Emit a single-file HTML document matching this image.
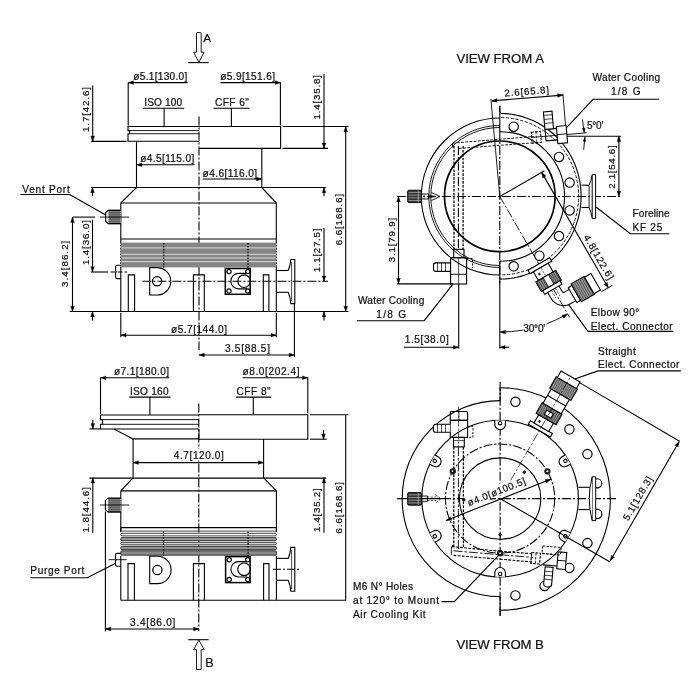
<!DOCTYPE html>
<html><head><meta charset="utf-8"><title>Drawing</title>
<style>
html,body{margin:0;padding:0;background:#fff;width:700px;height:700px;overflow:hidden;}
svg{display:block;position:absolute;left:0;top:0;will-change:transform}
text{font-family:"Liberation Sans",sans-serif;fill:#111;stroke:#111;stroke-width:0.22px;}
</style></head><body>
<svg width="700" height="700" viewBox="0 0 700 700">
<rect x="0" y="0" width="700" height="700" fill="#fff"/>
<path d="M196.5,52.2 V33.2 Q196.5,32.6 197.1,32.6 H200.6 Q201.2,32.6 201.2,33.2 V52.2 H204 L198.9,62.2 L193.6,52.2 Z" fill="none" stroke="#000" stroke-width="0.9"/>
<line x1="188.30" y1="62.60" x2="208.60" y2="62.60" stroke="#000" stroke-width="1.1"/>
<text x="203.20" y="42.20" font-size="11.8" text-anchor="start">A</text>
<line x1="199.00" y1="116.50" x2="199.00" y2="350.00" stroke="#000" stroke-width="1.1" stroke-dasharray="9 2 2 2"/>
<path d="M199,126.5 H128 V130.6 H129.6 V133.7 H128 V141.3 H199" fill="none" stroke="#000" stroke-width="1.1"/>
<line x1="128.00" y1="130.60" x2="199.00" y2="130.60" stroke="#000" stroke-width="0.9"/>
<line x1="129.60" y1="133.70" x2="199.00" y2="133.70" stroke="#000" stroke-width="0.9"/>
<path d="M199,126.5 H280.6 V148.4 H199" fill="none" stroke="#000" stroke-width="1.1"/>
<line x1="282.50" y1="126.50" x2="348.50" y2="126.50" stroke="#000" stroke-width="1.1"/>
<line x1="282.50" y1="148.40" x2="328.00" y2="148.40" stroke="#000" stroke-width="1.1"/>
<line x1="91.00" y1="141.40" x2="126.50" y2="141.40" stroke="#000" stroke-width="1.1"/>
<line x1="136.50" y1="141.40" x2="136.50" y2="187.50" stroke="#000" stroke-width="1.1"/>
<line x1="261.80" y1="148.40" x2="261.80" y2="187.50" stroke="#000" stroke-width="1.1"/>
<line x1="91.00" y1="187.50" x2="326.00" y2="187.50" stroke="#000" stroke-width="1.1"/>
<line x1="136.50" y1="187.50" x2="120.80" y2="203.00" stroke="#000" stroke-width="1.1"/>
<line x1="261.80" y1="187.50" x2="276.30" y2="203.00" stroke="#000" stroke-width="1.1"/>
<line x1="120.80" y1="203.00" x2="276.30" y2="203.00" stroke="#000" stroke-width="1.1"/>
<line x1="120.80" y1="203.00" x2="120.80" y2="242.00" stroke="#000" stroke-width="1.1"/>
<line x1="276.30" y1="203.00" x2="276.30" y2="242.00" stroke="#000" stroke-width="1.1"/>
<line x1="120.80" y1="239.00" x2="276.30" y2="239.00" stroke="#000" stroke-width="1.1"/>
<line x1="120.80" y1="242.00" x2="120.80" y2="267.00" stroke="#000" stroke-width="1.2" stroke-dasharray="1.6 1.3"/>
<line x1="276.30" y1="242.00" x2="276.30" y2="267.00" stroke="#000" stroke-width="1.2" stroke-dasharray="1.6 1.3"/>
<line x1="120.80" y1="267.00" x2="120.80" y2="311.50" stroke="#000" stroke-width="1.1"/>
<line x1="276.30" y1="267.00" x2="276.30" y2="311.50" stroke="#000" stroke-width="1.1"/>
<rect x="120.8" y="242.6" width="155.5" height="24.8" fill="#858585"/>
<line x1="121.50" y1="247.90" x2="276.00" y2="247.90" stroke="#e4e4e4" stroke-width="0.9"/>
<line x1="121.50" y1="254.30" x2="276.00" y2="254.30" stroke="#e4e4e4" stroke-width="0.9"/>
<line x1="121.50" y1="258.00" x2="276.00" y2="258.00" stroke="#e4e4e4" stroke-width="0.9"/>
<line x1="121.50" y1="261.60" x2="276.00" y2="261.60" stroke="#e4e4e4" stroke-width="0.9"/>
<line x1="163.80" y1="243.00" x2="163.80" y2="268.00" stroke="#000" stroke-width="1.1" stroke-dasharray="1.6 1.3"/>
<line x1="248.00" y1="243.00" x2="248.00" y2="268.50" stroke="#000" stroke-width="1.1" stroke-dasharray="1.6 1.3"/>
<line x1="69.70" y1="311.50" x2="348.50" y2="311.50" stroke="#000" stroke-width="1.1"/>
<path d="M128.3,311.5 V274.9 H134.6 V311.5" fill="none" stroke="#000" stroke-width="1.1"/>
<path d="M193.4,311.5 V274.9 H204.3 V311.5" fill="none" stroke="#000" stroke-width="1.1"/>
<path d="M263.3,311.5 V274.9 H268.9 V311.5" fill="none" stroke="#000" stroke-width="1.1"/>
<path d="M149.7,267.6 H157.1 A13.7,13.7 0 0 1 157.1,295 H149.7 Z" fill="none" stroke="#000" stroke-width="1.1"/>
<circle cx="157.10" cy="281.20" r="4.60" fill="none" stroke="#000" stroke-width="1.3"/>
<line x1="142.40" y1="281.20" x2="328.00" y2="281.20" stroke="#000" stroke-width="1.1" stroke-dasharray="9 2 2 2"/>
<rect x="225.30" y="268.50" width="24.90" height="25.80" rx="0" fill="none" stroke="#000" stroke-width="1.5"/>
<circle cx="229.00" cy="271.60" r="2.10" fill="none" stroke="#000" stroke-width="1.2"/>
<circle cx="247.80" cy="271.60" r="2.10" fill="none" stroke="#000" stroke-width="1.2"/>
<circle cx="229.00" cy="291.00" r="2.10" fill="none" stroke="#000" stroke-width="1.2"/>
<circle cx="247.80" cy="291.00" r="2.10" fill="none" stroke="#000" stroke-width="1.2"/>
<path d="M247,273.4 H238.6 A7.7,7.7 0 0 0 238.6,288.9 H247" fill="none" stroke="#000" stroke-width="1.1"/>
<circle cx="244.10" cy="281.20" r="6.30" fill="none" stroke="#000" stroke-width="1.1"/>
<line x1="276.30" y1="270.50" x2="288.20" y2="270.50" stroke="#000" stroke-width="1.1"/>
<line x1="276.30" y1="292.30" x2="288.20" y2="292.30" stroke="#000" stroke-width="1.1"/>
<path d="M288.2,270.5 Q290.3,266 290.8,259.5 H294.8 V303.6 H290.8 Q290.3,297 288.2,292.3" fill="none" stroke="#000" stroke-width="1.1"/>
<line x1="291.60" y1="262.00" x2="291.60" y2="301.00" stroke="#000" stroke-width="0.7"/>
<line x1="294.40" y1="303.60" x2="294.40" y2="357.00" stroke="#000" stroke-width="1.1"/>
<path d="M120.7,210.4 H108.3 L105.7,212.6 V221.4 L108.3,223.6 H120.7" fill="#fff" stroke="#000" stroke-width="1.1"/>
<rect x="108.5" y="210.8" width="12.2" height="12.399999999999988" fill="#808080"/>
<line x1="108.50" y1="212.60" x2="120.70" y2="212.60" stroke="#3a3a3a" stroke-width="0.6"/>
<line x1="108.50" y1="214.80" x2="120.70" y2="214.80" stroke="#3a3a3a" stroke-width="0.6"/>
<line x1="108.50" y1="217.00" x2="120.70" y2="217.00" stroke="#3a3a3a" stroke-width="0.6"/>
<line x1="108.50" y1="219.20" x2="120.70" y2="219.20" stroke="#3a3a3a" stroke-width="0.6"/>
<line x1="108.50" y1="221.40" x2="120.70" y2="221.40" stroke="#3a3a3a" stroke-width="0.6"/>
<line x1="108.50" y1="210.40" x2="120.70" y2="210.40" stroke="#000" stroke-width="1.1"/>
<line x1="108.50" y1="223.60" x2="120.70" y2="223.60" stroke="#000" stroke-width="1.1"/>
<line x1="73.00" y1="217.10" x2="95.00" y2="217.10" stroke="#000" stroke-width="1.1"/>
<line x1="100.00" y1="217.10" x2="129.00" y2="217.10" stroke="#000" stroke-width="0.9"/>
<path d="M120.8,265.3 H117 Q115.6,265.3 115.6,266.8 V270.5 Q115.6,271.7 116.8,271.7 Q115.6,271.7 115.6,273 V277 Q115.6,278.6 117,278.6 H120.8" fill="none" stroke="#000" stroke-width="1.1"/>
<line x1="91.00" y1="272.00" x2="108.00" y2="272.00" stroke="#000" stroke-width="1.1"/>
<line x1="110.50" y1="272.00" x2="127.00" y2="272.00" stroke="#000" stroke-width="1.1" stroke-dasharray="5 2"/>
<text x="133.30" y="80.40" font-size="10.1" text-anchor="start" textLength="54" lengthAdjust="spacing">ø5.1[130.0]</text>
<line x1="128.20" y1="82.60" x2="187.50" y2="82.60" stroke="#000" stroke-width="1.1"/>
<polygon points="128.20,82.60 133.50,80.70 133.50,84.50" fill="#000" stroke="#000" stroke-width="0.3"/>
<line x1="128.20" y1="82.60" x2="128.20" y2="125.40" stroke="#000" stroke-width="1.1"/>
<text x="220.20" y="80.40" font-size="10.1" text-anchor="start" textLength="54.8" lengthAdjust="spacing">ø5.9[151.6]</text>
<line x1="220.40" y1="82.60" x2="280.40" y2="82.60" stroke="#000" stroke-width="1.1"/>
<polygon points="280.40,82.60 275.10,84.50 275.10,80.70" fill="#000" stroke="#000" stroke-width="0.3"/>
<line x1="280.40" y1="82.60" x2="280.40" y2="125.40" stroke="#000" stroke-width="1.1"/>
<text x="144.30" y="105.60" font-size="10.1" text-anchor="start" textLength="37.8" lengthAdjust="spacing">ISO 100</text>
<line x1="142.80" y1="108.30" x2="184.20" y2="108.30" stroke="#000" stroke-width="1.1"/>
<line x1="164.10" y1="108.30" x2="164.10" y2="126.50" stroke="#000" stroke-width="1.1"/>
<text x="214.90" y="105.60" font-size="10.1" text-anchor="start" textLength="34" lengthAdjust="spacing">CFF 6"</text>
<line x1="213.40" y1="108.30" x2="249.50" y2="108.30" stroke="#000" stroke-width="1.1"/>
<line x1="231.40" y1="108.30" x2="231.40" y2="126.50" stroke="#000" stroke-width="1.1"/>
<text x="88.60" y="132.00" font-size="9.7" text-anchor="start" textLength="45" lengthAdjust="spacing" transform="rotate(-90 88.60 132.00)">1.7[42.6]</text>
<line x1="92.70" y1="85.60" x2="92.70" y2="141.40" stroke="#000" stroke-width="1.1"/>
<polygon points="92.70,141.40 90.80,136.10 94.60,136.10" fill="#000" stroke="#000" stroke-width="0.3"/>
<text x="320.20" y="119.60" font-size="9.7" text-anchor="start" textLength="44.5" lengthAdjust="spacing" transform="rotate(-90 320.20 119.60)">1.4[35.8]</text>
<line x1="324.00" y1="74.00" x2="324.00" y2="148.40" stroke="#000" stroke-width="1.1"/>
<polygon points="324.00,148.40 322.10,143.10 325.90,143.10" fill="#000" stroke="#000" stroke-width="0.3"/>
<text x="140.30" y="162.30" font-size="10.1" text-anchor="start" textLength="54" lengthAdjust="spacing">ø4.5[115.0]</text>
<line x1="136.50" y1="164.80" x2="194.50" y2="164.80" stroke="#000" stroke-width="1.1"/>
<polygon points="136.50,164.80 141.80,162.90 141.80,166.70" fill="#000" stroke="#000" stroke-width="0.3"/>
<text x="202.60" y="176.80" font-size="10.1" text-anchor="start" textLength="54.5" lengthAdjust="spacing">ø4.6[116.0]</text>
<line x1="202.60" y1="179.00" x2="261.80" y2="179.00" stroke="#000" stroke-width="1.1"/>
<polygon points="261.80,179.00 256.50,180.90 256.50,177.10" fill="#000" stroke="#000" stroke-width="0.3"/>
<line x1="92.50" y1="187.50" x2="92.50" y2="196.00" stroke="#000" stroke-width="1.1"/>
<polygon points="92.50,187.50 94.40,192.80 90.60,192.80" fill="#000" stroke="#000" stroke-width="0.3"/>
<line x1="324.00" y1="187.50" x2="324.00" y2="196.00" stroke="#000" stroke-width="1.1"/>
<polygon points="324.00,187.50 325.90,192.80 322.10,192.80" fill="#000" stroke="#000" stroke-width="0.3"/>
<text x="22.30" y="192.70" font-size="10.1" text-anchor="start" textLength="47.4" lengthAdjust="spacing">Vent Port</text>
<path d="M20.3,194.5 H69.7 L105.7,215" fill="none" stroke="#000" stroke-width="1.1"/>
<text x="68.40" y="287.00" font-size="9.7" text-anchor="start" textLength="46.3" lengthAdjust="spacing" transform="rotate(-90 68.40 287.00)">3.4[86.2]</text>
<line x1="72.50" y1="217.10" x2="72.50" y2="311.50" stroke="#000" stroke-width="1.1"/>
<polygon points="72.50,217.10 74.40,222.40 70.60,222.40" fill="#000" stroke="#000" stroke-width="0.3"/>
<polygon points="72.50,311.50 70.60,306.20 74.40,306.20" fill="#000" stroke="#000" stroke-width="0.3"/>
<text x="88.80" y="265.10" font-size="9.7" text-anchor="start" textLength="45" lengthAdjust="spacing" transform="rotate(-90 88.80 265.10)">1.4[36.0]</text>
<line x1="92.50" y1="220.00" x2="92.50" y2="272.00" stroke="#000" stroke-width="1.1"/>
<polygon points="92.50,272.00 90.60,266.70 94.40,266.70" fill="#000" stroke="#000" stroke-width="0.3"/>
<line x1="92.50" y1="311.50" x2="92.50" y2="320.50" stroke="#000" stroke-width="1.1"/>
<polygon points="92.50,311.50 94.40,316.80 90.60,316.80" fill="#000" stroke="#000" stroke-width="0.3"/>
<line x1="324.00" y1="311.50" x2="324.00" y2="320.50" stroke="#000" stroke-width="1.1"/>
<polygon points="324.00,311.50 325.90,316.80 322.10,316.80" fill="#000" stroke="#000" stroke-width="0.3"/>
<text x="342.30" y="245.30" font-size="9.7" text-anchor="start" textLength="51.5" lengthAdjust="spacing" transform="rotate(-90 342.30 245.30)">6.6[168.6]</text>
<line x1="345.70" y1="126.50" x2="345.70" y2="311.50" stroke="#000" stroke-width="1.1"/>
<polygon points="345.70,126.50 347.60,131.80 343.80,131.80" fill="#000" stroke="#000" stroke-width="0.3"/>
<polygon points="345.70,311.50 343.80,306.20 347.60,306.20" fill="#000" stroke="#000" stroke-width="0.3"/>
<text x="320.50" y="272.30" font-size="9.7" text-anchor="start" textLength="43.7" lengthAdjust="spacing" transform="rotate(-90 320.50 272.30)">1.1[27.5]</text>
<line x1="324.00" y1="228.00" x2="324.00" y2="281.20" stroke="#000" stroke-width="1.1"/>
<polygon points="324.00,281.20 322.10,275.90 325.90,275.90" fill="#000" stroke="#000" stroke-width="0.3"/>
<text x="171.00" y="332.70" font-size="10.1" text-anchor="start" textLength="56" lengthAdjust="spacing">ø5.7[144.0]</text>
<line x1="120.80" y1="335.20" x2="276.30" y2="335.20" stroke="#000" stroke-width="1.1"/>
<polygon points="120.80,335.20 126.10,333.30 126.10,337.10" fill="#000" stroke="#000" stroke-width="0.3"/>
<polygon points="276.30,335.20 271.00,337.10 271.00,333.30" fill="#000" stroke="#000" stroke-width="0.3"/>
<line x1="120.80" y1="312.80" x2="120.80" y2="337.20" stroke="#000" stroke-width="1.1"/>
<line x1="276.30" y1="312.80" x2="276.30" y2="337.20" stroke="#000" stroke-width="1.1"/>
<text x="225.00" y="352.20" font-size="10.1" text-anchor="start" textLength="45" lengthAdjust="spacing">3.5[88.5]</text>
<line x1="199.00" y1="355.00" x2="294.40" y2="355.00" stroke="#000" stroke-width="1.1"/>
<polygon points="199.00,355.00 204.30,353.10 204.30,356.90" fill="#000" stroke="#000" stroke-width="0.3"/>
<polygon points="294.40,355.00 289.10,356.90 289.10,353.10" fill="#000" stroke="#000" stroke-width="0.3"/>
<text x="456.40" y="63.30" font-size="13.2" text-anchor="start" textLength="87.6" lengthAdjust="spacing">VIEW FROM A</text>
<line x1="396.90" y1="196.50" x2="621.10" y2="196.50" stroke="#000" stroke-width="1.1" stroke-dasharray="9 2 2 2"/>
<line x1="499.80" y1="105.70" x2="499.80" y2="131.00" stroke="#000" stroke-width="1.1"/>
<line x1="499.80" y1="131.00" x2="499.80" y2="283.00" stroke="#000" stroke-width="1.1" stroke-dasharray="9 2 2 2"/>
<line x1="499.80" y1="283.00" x2="499.80" y2="348.50" stroke="#000" stroke-width="1.1"/>
<path d="M499.80,275.00 A78.50,78.50 0 0 1 499.80,118.00" fill="none" stroke="#000" stroke-width="1.1"/>
<path d="M499.80,267.50 A71.00,71.00 0 0 1 499.80,125.50" fill="none" stroke="#000" stroke-width="0.9"/>
<path d="M499.80,265.50 A69.00,69.00 0 0 1 499.80,127.50" fill="none" stroke="#000" stroke-width="0.9"/>
<line x1="499.50" y1="125.20" x2="499.50" y2="127.80" stroke="#000" stroke-width="0.9"/>
<line x1="499.50" y1="265.20" x2="499.50" y2="267.80" stroke="#000" stroke-width="0.9"/>
<circle cx="499.80" cy="196.30" r="55.30" fill="none" stroke="#000" stroke-width="1.7"/>
<polyline points="499.80,105.70 499.80,111.50 501.00,113.30 505.47,113.60 508.30,113.85 511.11,114.21 513.92,114.66 516.70,115.21 519.47,115.86 522.21,116.61 524.92,117.45 527.61,118.40 530.26,119.43 532.87,120.56 535.44,121.78 537.97,123.10 540.45,124.50 542.88,125.99 545.26,127.56 547.59,129.22 549.85,130.96 552.06,132.78 554.20,134.68 556.28,136.65 558.28,138.70 560.22,140.81 562.08,143.00 563.87,145.24 565.57,147.55 567.20,149.92 568.75,152.35 570.21,154.82 571.58,157.35 572.87,159.93 574.07,162.55 575.18,165.21 576.20,167.91 577.12,170.65 577.95,173.41 578.69,176.21 579.32,179.02 579.86,181.86 580.31,184.72 580.65,187.59 580.90,190.47 581.05,193.36 581.10,196.25 581.05,199.14 580.90,202.03 580.65,204.91 580.31,207.78 579.86,210.64 579.32,213.48 578.69,216.29 577.95,219.09 577.12,221.85 576.20,224.59 575.18,227.29 574.07,229.95 572.87,232.57 571.58,235.15 570.21,237.67 568.75,240.15 567.20,242.58 565.57,244.95 563.87,247.26 562.08,249.50 560.22,251.69 558.28,253.80 556.28,255.85 554.20,257.82 552.06,259.72 549.85,261.54 547.59,263.28 545.26,264.94 542.88,266.51 540.45,268.00 537.97,269.40 535.44,270.72 532.87,271.94 530.26,273.07 527.61,274.10 524.92,275.05 522.21,275.89 519.47,276.64 516.70,277.29 513.92,277.84 511.11,278.29 508.30,278.65 505.47,278.90 502.64,279.05 499.80,279.10" fill="none" stroke="#000" stroke-width="1.1"/>
<line x1="499.80" y1="261.00" x2="499.80" y2="283.40" stroke="#000" stroke-width="1.1"/>
<path d="M499.80,131.70 A64.80,64.80 0 0 1 499.80,261.30" fill="none" stroke="#000" stroke-width="1.1"/>
<path d="M501.17,117.51 A78.70,78.70 0 0 1 501.17,274.89" fill="none" stroke="#000" stroke-width="0.9" stroke-dasharray="3.2 1.6"/>
<circle cx="513.69" cy="126.67" r="4.70" fill="#fff" stroke="#000" stroke-width="1.1"/>
<circle cx="559.00" cy="156.94" r="4.70" fill="#fff" stroke="#000" stroke-width="1.1"/>
<circle cx="569.63" cy="182.61" r="4.70" fill="#fff" stroke="#000" stroke-width="1.1"/>
<circle cx="569.63" cy="210.39" r="4.70" fill="#fff" stroke="#000" stroke-width="1.1"/>
<circle cx="559.00" cy="236.06" r="4.70" fill="#fff" stroke="#000" stroke-width="1.1"/>
<circle cx="539.36" cy="255.70" r="4.70" fill="#fff" stroke="#000" stroke-width="1.1"/>
<circle cx="513.69" cy="266.33" r="4.70" fill="#fff" stroke="#000" stroke-width="1.1"/>
<line x1="490.90" y1="98.90" x2="499.80" y2="196.50" stroke="#000" stroke-width="0.9"/>
<line x1="562.90" y1="93.70" x2="566.30" y2="134.90" stroke="#000" stroke-width="0.9"/>
<line x1="491.70" y1="100.90" x2="562.90" y2="95.10" stroke="#000" stroke-width="1.1"/>
<polygon points="491.70,100.90 496.83,98.57 497.14,102.36" fill="#000" stroke="#000" stroke-width="0.3"/>
<polygon points="562.90,95.10 557.77,97.43 557.46,93.64" fill="#000" stroke="#000" stroke-width="0.3"/>
<text x="504.80" y="96.60" font-size="9.7" text-anchor="start" textLength="44.5" lengthAdjust="spacing" transform="rotate(-4.7 504.80 96.60)">2.6[65.8]</text>
<text x="592.60" y="81.20" font-size="10.1" text-anchor="start" textLength="67.4" lengthAdjust="spacing">Water Cooling</text>
<text x="610.90" y="95.30" font-size="10.1" text-anchor="start" textLength="29.7" lengthAdjust="spacing">1/8 G</text>
<path d="M658.9,99.3 H593 L565.4,128.8" fill="none" stroke="#000" stroke-width="1.1"/>
<text x="586.90" y="129.40" font-size="10.1" text-anchor="start" textLength="16.5" lengthAdjust="spacing">5°0'</text>
<line x1="566.30" y1="136.30" x2="621.10" y2="136.30" stroke="#000" stroke-width="1.1"/>
<line x1="531.00" y1="137.50" x2="586.90" y2="132.80" stroke="#000" stroke-width="0.9"/>
<line x1="582.40" y1="119.60" x2="584.20" y2="132.30" stroke="#000" stroke-width="0.9"/>
<polygon points="584.30,132.60 582.29,128.34 585.06,127.95" fill="#000" stroke="#000" stroke-width="0.3"/>
<line x1="583.70" y1="149.80" x2="584.90" y2="137.20" stroke="#000" stroke-width="0.9"/>
<polygon points="584.90,136.90 585.82,141.52 583.04,141.23" fill="#000" stroke="#000" stroke-width="0.3"/>
<text x="615.40" y="188.80" font-size="9.7" text-anchor="start" textLength="43.4" lengthAdjust="spacing" transform="rotate(-90 615.40 188.80)">2.1[54.6]</text>
<line x1="618.90" y1="136.30" x2="618.90" y2="196.50" stroke="#000" stroke-width="1.1"/>
<polygon points="618.90,136.30 620.80,141.60 617.00,141.60" fill="#000" stroke="#000" stroke-width="0.3"/>
<polygon points="618.90,196.50 617.00,191.20 620.80,191.20" fill="#000" stroke="#000" stroke-width="0.3"/>
<line x1="581.50" y1="185.20" x2="589.10" y2="185.20" stroke="#000" stroke-width="1.1"/>
<line x1="581.50" y1="207.50" x2="589.10" y2="207.50" stroke="#000" stroke-width="1.1"/>
<line x1="589.10" y1="185.20" x2="589.10" y2="207.50" stroke="#000" stroke-width="0.9"/>
<path d="M589.1,185.2 Q591,181 592.2,175.2" fill="none" stroke="#000" stroke-width="1.0"/>
<path d="M589.1,207.5 Q591,212 592.2,217.8" fill="none" stroke="#000" stroke-width="1.0"/>
<path d="M592.2,174.6 H595.6 V218.4 H592.2 Z" fill="#fff" stroke="#000" stroke-width="1.0"/>
<text x="632.60" y="216.80" font-size="10.1" text-anchor="start" textLength="37" lengthAdjust="spacing">Foreline</text>
<text x="632.60" y="231.20" font-size="10.1" text-anchor="start" textLength="29.7" lengthAdjust="spacing">KF 25</text>
<path d="M669.3,233.7 H630.3 L596,207" fill="none" stroke="#000" stroke-width="1.1"/>
<text x="395.50" y="262.30" font-size="9.7" text-anchor="start" textLength="44.6" lengthAdjust="spacing" transform="rotate(-90 395.50 262.30)">3.1[79.9]</text>
<line x1="398.50" y1="196.50" x2="398.50" y2="283.70" stroke="#000" stroke-width="1.1"/>
<polygon points="398.50,196.50 400.40,201.80 396.60,201.80" fill="#000" stroke="#000" stroke-width="0.3"/>
<polygon points="398.50,283.70 396.60,278.40 400.40,278.40" fill="#000" stroke="#000" stroke-width="0.3"/>
<line x1="396.90" y1="283.90" x2="452.90" y2="283.90" stroke="#000" stroke-width="1.1"/>
<text x="358.00" y="304.20" font-size="10.1" text-anchor="start" textLength="66.3" lengthAdjust="spacing">Water Cooling</text>
<text x="376.30" y="317.70" font-size="10.1" text-anchor="start" textLength="29.7" lengthAdjust="spacing">1/8 G</text>
<path d="M356.9,320.7 H424.3 L452.9,284.2" fill="none" stroke="#000" stroke-width="1.1"/>
<text x="404.70" y="343.20" font-size="10.1" text-anchor="start" textLength="44" lengthAdjust="spacing">1.5[38.0]</text>
<line x1="404.00" y1="347.30" x2="458.70" y2="347.30" stroke="#000" stroke-width="1.1"/>
<polygon points="458.70,347.30 453.40,349.20 453.40,345.40" fill="#000" stroke="#000" stroke-width="0.3"/>
<line x1="458.70" y1="284.00" x2="458.70" y2="348.60" stroke="#000" stroke-width="1.1"/>
<line x1="499.80" y1="347.30" x2="509.20" y2="347.30" stroke="#000" stroke-width="1.1"/>
<polygon points="499.80,347.30 505.10,345.40 505.10,349.20" fill="#000" stroke="#000" stroke-width="0.3"/>
<line x1="499.80" y1="196.50" x2="569.55" y2="317.31" stroke="#000" stroke-width="0.9" stroke-dasharray="9 2 2 2"/>
<path d="M566.57,314.52 A135.60,135.60 0 0 1 546.62,323.76" fill="none" stroke="#000" stroke-width="0.9"/>
<path d="M522.65,330.16 A135.60,135.60 0 0 1 500.51,332.10" fill="none" stroke="#000" stroke-width="0.9"/>
<polygon points="500.00,332.10 505.50,330.20 505.50,334.00" fill="#000" stroke="#000" stroke-width="0.3"/>
<polygon points="567.60,313.93 563.94,318.46 561.93,315.24" fill="#000" stroke="#000" stroke-width="0.3"/>
<text x="523.30" y="331.70" font-size="10.1" text-anchor="start" textLength="22" lengthAdjust="spacing">30°0'</text>
<text x="590.70" y="315.60" font-size="10.1" text-anchor="start" textLength="48.7" lengthAdjust="spacing">Elbow 90°</text>
<text x="590.70" y="329.60" font-size="10.1" text-anchor="start" textLength="82" lengthAdjust="spacing">Elect. Connector</text>
<path d="M673.3,331.4 H588 L568.6,304.6" fill="none" stroke="#000" stroke-width="1.1"/>
<line x1="454.00" y1="146.00" x2="454.00" y2="250.00" stroke="#000" stroke-width="1.25" stroke-dasharray="2.6 1.3"/>
<line x1="458.40" y1="146.00" x2="458.40" y2="250.00" stroke="#000" stroke-width="1.1" stroke-dasharray="9 2 2.5 2"/>
<line x1="463.10" y1="146.00" x2="463.10" y2="250.00" stroke="#000" stroke-width="1.25" stroke-dasharray="2.6 1.3"/>
<line x1="452.70" y1="143.10" x2="533.70" y2="136.50" stroke="#000" stroke-width="0.9" stroke-dasharray="2.8 1.4"/>
<line x1="459.00" y1="148.40" x2="533.70" y2="142.80" stroke="#000" stroke-width="0.9" stroke-dasharray="2.8 1.4"/>
<line x1="452.70" y1="143.10" x2="452.70" y2="147.50" stroke="#000" stroke-width="1.1"/>
<g transform="rotate(-5 561 134)">
<rect x="557.00" y="126.00" width="9.80" height="17.40" rx="0" fill="#fff" stroke="#000" stroke-width="1.1"/>
<line x1="557.00" y1="134.30" x2="566.80" y2="134.30" stroke="#000" stroke-width="0.9"/>
<path d="M557,128 H545.5 V139.5 H557" fill="none" stroke="#000" stroke-width="1.1"/>
<rect x="545.40" y="110.50" width="8.60" height="17.50" rx="0" fill="#fff" stroke="#000" stroke-width="1.1"/>
<line x1="545.40" y1="114.00" x2="554.00" y2="114.00" stroke="#000" stroke-width="0.7"/>
<line x1="545.40" y1="118.00" x2="554.00" y2="118.00" stroke="#000" stroke-width="0.7"/>
<line x1="545.40" y1="122.00" x2="554.00" y2="122.00" stroke="#000" stroke-width="0.7"/>
<path d="M531.5,129.6 H540.8 V140.6 H531.5 Z" fill="none" stroke="#000" stroke-width="1.1" stroke-dasharray="2.6 1.3"/>
<line x1="536.20" y1="129.60" x2="536.20" y2="140.60" stroke="#000" stroke-width="0.7" stroke-dasharray="2.6 1.3"/>
</g>
<rect x="453.70" y="249.30" width="10.30" height="8.40" rx="0" fill="none" stroke="#000" stroke-width="1.1"/>
<rect x="450.60" y="257.70" width="16.00" height="26.30" rx="0" fill="none" stroke="#000" stroke-width="1.1"/>
<line x1="450.60" y1="274.30" x2="466.60" y2="274.30" stroke="#000" stroke-width="0.9"/>
<line x1="458.60" y1="257.70" x2="458.60" y2="284.00" stroke="#000" stroke-width="0.7"/>
<path d="M450.6,262.9 H436 Q433.5,262.9 433.5,265 V269.3 Q433.5,271.4 436,271.4 H450.6" fill="none" stroke="#000" stroke-width="1.1"/>
<line x1="437.50" y1="262.90" x2="437.50" y2="271.40" stroke="#000" stroke-width="0.7"/>
<line x1="441.50" y1="262.90" x2="441.50" y2="271.40" stroke="#000" stroke-width="0.7"/>
<line x1="445.50" y1="262.90" x2="445.50" y2="271.40" stroke="#000" stroke-width="0.7"/>
<path d="M466.6,258.5 H472.5 V268" fill="none" stroke="#000" stroke-width="0.9" stroke-dasharray="2.2 1.4"/>
<rect x="407.70" y="190.20" width="13.70" height="12.40" rx="1.2" fill="#333" stroke="#000" stroke-width="0.9"/>
<line x1="408.30" y1="192.40" x2="420.80" y2="192.40" stroke="#ccc" stroke-width="0.6"/>
<line x1="408.30" y1="195.10" x2="420.80" y2="195.10" stroke="#ccc" stroke-width="0.6"/>
<line x1="408.30" y1="197.80" x2="420.80" y2="197.80" stroke="#ccc" stroke-width="0.6"/>
<line x1="408.30" y1="200.50" x2="420.80" y2="200.50" stroke="#ccc" stroke-width="0.6"/>
<line x1="418.30" y1="190.40" x2="418.30" y2="202.40" stroke="#ccc" stroke-width="0.6"/>
<path d="M421.4,194 H428.5 V199 H421.4" fill="none" stroke="#000" stroke-width="0.9"/>
<line x1="424.00" y1="194.00" x2="424.00" y2="199.00" stroke="#000" stroke-width="0.6"/>
<path d="M431.5,192.5 L440,196.5 L431.5,200.5" fill="none" stroke="#000" stroke-width="0.9"/>
<path d="M428.5,195 L436,196.5 L428.5,198" fill="none" stroke="#000" stroke-width="0.7"/>
<g transform="translate(499.8 196.5) rotate(-30)">
<line x1="0.00" y1="0.00" x2="51.50" y2="0.00" stroke="#000" stroke-width="1.1"/>
<line x1="48.30" y1="0.00" x2="48.30" y2="133.30" stroke="#000" stroke-width="1.1"/>
<polygon points="48.30,0.00 50.20,5.30 46.40,5.30" fill="#000" stroke="#000" stroke-width="0.3"/>
<polygon points="48.30,133.30 46.40,128.00 50.20,128.00" fill="#000" stroke="#000" stroke-width="0.3"/>
<line x1="40.50" y1="133.30" x2="53.00" y2="133.30" stroke="#000" stroke-width="0.9"/>
<text x="0" y="0" font-size="9.7" textLength="50" lengthAdjust="spacing" transform="translate(52 77) rotate(90)">4.8[122.6]</text>
<rect x="-12.50" y="78.00" width="25.00" height="4.00" rx="0" fill="#fff" stroke="#000" stroke-width="1.1"/>
<rect x="-8.50" y="82.00" width="17.00" height="10.00" rx="0" fill="#fff" stroke="#000" stroke-width="1.1"/>
<circle cx="-4.50" cy="87.00" r="0.90" fill="#222" stroke="#000" stroke-width="0.6"/>
<line x1="0.00" y1="83.00" x2="0.00" y2="91.00" stroke="#000" stroke-width="0.6" stroke-dasharray="2 1.2"/>
<rect x="-11.50" y="92.00" width="23.00" height="11.00" rx="0" fill="#8c8c8c" stroke="#000" stroke-width="1.1"/>
<line x1="-10.50" y1="92.30" x2="-10.50" y2="102.70" stroke="#2a2a2a" stroke-width="0.6"/>
<line x1="-8.40" y1="92.30" x2="-8.40" y2="102.70" stroke="#2a2a2a" stroke-width="0.6"/>
<line x1="-6.30" y1="92.30" x2="-6.30" y2="102.70" stroke="#2a2a2a" stroke-width="0.6"/>
<line x1="-4.20" y1="92.30" x2="-4.20" y2="102.70" stroke="#2a2a2a" stroke-width="0.6"/>
<line x1="-2.10" y1="92.30" x2="-2.10" y2="102.70" stroke="#2a2a2a" stroke-width="0.6"/>
<line x1="0.00" y1="92.30" x2="0.00" y2="102.70" stroke="#2a2a2a" stroke-width="0.6"/>
<line x1="2.10" y1="92.30" x2="2.10" y2="102.70" stroke="#2a2a2a" stroke-width="0.6"/>
<line x1="4.20" y1="92.30" x2="4.20" y2="102.70" stroke="#2a2a2a" stroke-width="0.6"/>
<line x1="6.30" y1="92.30" x2="6.30" y2="102.70" stroke="#2a2a2a" stroke-width="0.6"/>
<line x1="8.40" y1="92.30" x2="8.40" y2="102.70" stroke="#2a2a2a" stroke-width="0.6"/>
<line x1="10.50" y1="92.30" x2="10.50" y2="102.70" stroke="#2a2a2a" stroke-width="0.6"/>
<rect x="-3.00" y="92.00" width="6.00" height="11.00" rx="0" fill="#fff" stroke="#000" stroke-width="0.7"/>
<rect x="-10.00" y="103.00" width="20.00" height="4.00" rx="0" fill="#fff" stroke="#000" stroke-width="1.1"/>
<path d="M-6.5,107 V114 A14.15,14.15 0 0 0 7.65,128.15 H13.7" fill="none" stroke="#000" stroke-width="1.1"/>
<path d="M6.5,107 V113.5 Q6.5,115.15 8.2,115.15 H13.7" fill="none" stroke="#000" stroke-width="1.1"/>
<line x1="-2.20" y1="107.00" x2="-2.20" y2="116.00" stroke="#000" stroke-width="0.6" stroke-dasharray="2.5 1.5"/>
<line x1="2.20" y1="107.00" x2="2.20" y2="116.00" stroke="#000" stroke-width="0.6" stroke-dasharray="2.5 1.5"/>
<rect x="13.70" y="113.20" width="4.30" height="17.00" rx="0" fill="#fff" stroke="#000" stroke-width="1.1"/>
<rect x="18.00" y="111.30" width="15.00" height="20.70" rx="0" fill="#9a9a9a" stroke="#000" stroke-width="1.1"/>
<line x1="19.50" y1="111.60" x2="19.50" y2="131.70" stroke="#2a2a2a" stroke-width="0.6"/>
<line x1="21.60" y1="111.60" x2="21.60" y2="131.70" stroke="#2a2a2a" stroke-width="0.6"/>
<line x1="23.70" y1="111.60" x2="23.70" y2="131.70" stroke="#2a2a2a" stroke-width="0.6"/>
<line x1="25.80" y1="111.60" x2="25.80" y2="131.70" stroke="#2a2a2a" stroke-width="0.6"/>
<line x1="27.90" y1="111.60" x2="27.90" y2="131.70" stroke="#2a2a2a" stroke-width="0.6"/>
<line x1="30.00" y1="111.60" x2="30.00" y2="131.70" stroke="#2a2a2a" stroke-width="0.6"/>
<line x1="32.10" y1="111.60" x2="32.10" y2="131.70" stroke="#2a2a2a" stroke-width="0.6"/>
<rect x="33.00" y="112.30" width="7.40" height="19.00" rx="0" fill="#fff" stroke="#000" stroke-width="1.1"/>
</g>
<line x1="198.80" y1="403.50" x2="198.80" y2="631.00" stroke="#000" stroke-width="1.1" stroke-dasharray="9 2 2 2"/>
<path d="M199,415 H100.5 V419.6 H102.6 V424.3 H100.5 V429 H199" fill="none" stroke="#000" stroke-width="1.1"/>
<line x1="100.50" y1="419.60" x2="199.00" y2="419.60" stroke="#000" stroke-width="0.9"/>
<line x1="102.60" y1="424.30" x2="199.00" y2="424.30" stroke="#000" stroke-width="0.9"/>
<line x1="199.00" y1="428.90" x2="199.00" y2="439.20" stroke="#000" stroke-width="0.9"/>
<line x1="89.40" y1="428.90" x2="100.50" y2="428.90" stroke="#000" stroke-width="1.1"/>
<line x1="113.90" y1="428.90" x2="133.10" y2="438.90" stroke="#000" stroke-width="1.1"/>
<line x1="133.10" y1="438.90" x2="199.00" y2="438.90" stroke="#000" stroke-width="1.1"/>
<path d="M199,414.8 H307.8 V439.2 H199" fill="none" stroke="#000" stroke-width="1.1"/>
<line x1="310.00" y1="414.80" x2="348.40" y2="414.80" stroke="#000" stroke-width="1.1"/>
<line x1="310.00" y1="439.20" x2="326.60" y2="439.20" stroke="#000" stroke-width="1.1"/>
<line x1="133.10" y1="438.90" x2="133.10" y2="477.80" stroke="#000" stroke-width="1.1"/>
<line x1="263.60" y1="439.20" x2="263.60" y2="477.80" stroke="#000" stroke-width="1.1"/>
<line x1="89.40" y1="478.10" x2="326.30" y2="478.10" stroke="#000" stroke-width="1.1"/>
<line x1="133.10" y1="477.80" x2="120.80" y2="490.90" stroke="#000" stroke-width="1.1"/>
<line x1="263.60" y1="477.80" x2="276.40" y2="490.90" stroke="#000" stroke-width="1.1"/>
<line x1="120.80" y1="490.90" x2="276.40" y2="490.90" stroke="#000" stroke-width="1.1"/>
<line x1="120.80" y1="490.90" x2="120.80" y2="531.50" stroke="#000" stroke-width="1.1"/>
<line x1="276.40" y1="490.90" x2="276.40" y2="531.50" stroke="#000" stroke-width="1.1"/>
<line x1="120.80" y1="527.60" x2="276.40" y2="527.60" stroke="#000" stroke-width="1.1"/>
<line x1="120.80" y1="528.00" x2="120.80" y2="532.00" stroke="#000" stroke-width="1.1"/>
<line x1="276.40" y1="528.00" x2="276.40" y2="532.00" stroke="#000" stroke-width="1.1"/>
<line x1="120.80" y1="556.00" x2="120.80" y2="600.20" stroke="#000" stroke-width="1.1"/>
<line x1="276.40" y1="556.00" x2="276.40" y2="600.20" stroke="#000" stroke-width="1.1"/>
<line x1="121.30" y1="531.10" x2="276.40" y2="531.10" stroke="#333" stroke-width="0.9"/>
<rect x="120.8" y="533.3" width="155.6" height="2.60" rx="1.2" fill="#fff" stroke="#222" stroke-width="0.85"/>
<rect x="120.8" y="537.6" width="155.6" height="3.00" rx="1.2" fill="#999" stroke="#222" stroke-width="0.85"/>
<rect x="120.8" y="542.3" width="155.6" height="2.60" rx="1.2" fill="#d0d0d0" stroke="#222" stroke-width="0.85"/>
<rect x="120.8" y="546.6" width="155.6" height="3.00" rx="1.2" fill="#999" stroke="#222" stroke-width="0.85"/>
<rect x="120.8" y="550.8" width="155.6" height="4.40" rx="1.2" fill="#8a8a8a" stroke="#222" stroke-width="0.85"/>
<line x1="163.50" y1="531.50" x2="163.50" y2="556.00" stroke="#000" stroke-width="1.1" stroke-dasharray="1.6 1.3"/>
<line x1="248.10" y1="531.50" x2="248.10" y2="556.50" stroke="#000" stroke-width="1.1" stroke-dasharray="1.6 1.3"/>
<line x1="120.80" y1="600.20" x2="346.00" y2="600.20" stroke="#000" stroke-width="1.1"/>
<path d="M128,600.2 V563.6 H134.4 V600.2" fill="none" stroke="#000" stroke-width="1.1"/>
<path d="M193.4,600.2 V563.6 H204.4 V600.2" fill="none" stroke="#000" stroke-width="1.1"/>
<path d="M263.6,600.2 V563.6 H269 V600.2" fill="none" stroke="#000" stroke-width="1.1"/>
<path d="M149.7,556.2 H157.4 A13.7,13.7 0 0 1 157.4,583.6 H149.7 Z" fill="none" stroke="#000" stroke-width="1.1"/>
<circle cx="157.40" cy="570.00" r="4.60" fill="none" stroke="#000" stroke-width="1.3"/>
<rect x="225.60" y="556.60" width="24.50" height="26.00" rx="0" fill="none" stroke="#000" stroke-width="1.5"/>
<circle cx="229.20" cy="559.80" r="2.10" fill="none" stroke="#000" stroke-width="1.2"/>
<circle cx="247.80" cy="559.80" r="2.10" fill="none" stroke="#000" stroke-width="1.2"/>
<circle cx="229.20" cy="579.40" r="2.10" fill="none" stroke="#000" stroke-width="1.2"/>
<circle cx="247.80" cy="579.40" r="2.10" fill="none" stroke="#000" stroke-width="1.2"/>
<path d="M247,561.6 H238.6 A7.7,7.7 0 0 0 238.6,577 H247" fill="none" stroke="#000" stroke-width="1.1"/>
<circle cx="244.10" cy="569.30" r="6.30" fill="none" stroke="#000" stroke-width="1.1"/>
<line x1="276.40" y1="558.40" x2="288.20" y2="558.40" stroke="#000" stroke-width="1.1"/>
<line x1="276.40" y1="580.30" x2="288.20" y2="580.30" stroke="#000" stroke-width="1.1"/>
<path d="M288.2,558.4 Q290.3,554 290.8,547.4 H294.8 V591.3 H290.8 Q290.3,585 288.2,580.3" fill="none" stroke="#000" stroke-width="1.1"/>
<line x1="291.60" y1="550.00" x2="291.60" y2="589.00" stroke="#000" stroke-width="0.7"/>
<line x1="273.00" y1="569.30" x2="299.80" y2="569.30" stroke="#000" stroke-width="1.1" stroke-dasharray="8 2 2 2"/>
<path d="M120.6,498.2 H108.0 L105.4,500.4 V509.7 L108.0,511.9 H120.6" fill="#fff" stroke="#000" stroke-width="1.1"/>
<rect x="108.2" y="498.59999999999997" width="12.399999999999988" height="12.899999999999988" fill="#808080"/>
<line x1="108.20" y1="500.48" x2="120.60" y2="500.48" stroke="#3a3a3a" stroke-width="0.6"/>
<line x1="108.20" y1="502.77" x2="120.60" y2="502.77" stroke="#3a3a3a" stroke-width="0.6"/>
<line x1="108.20" y1="505.05" x2="120.60" y2="505.05" stroke="#3a3a3a" stroke-width="0.6"/>
<line x1="108.20" y1="507.33" x2="120.60" y2="507.33" stroke="#3a3a3a" stroke-width="0.6"/>
<line x1="108.20" y1="509.62" x2="120.60" y2="509.62" stroke="#3a3a3a" stroke-width="0.6"/>
<line x1="108.20" y1="498.20" x2="120.60" y2="498.20" stroke="#000" stroke-width="1.1"/>
<line x1="108.20" y1="511.90" x2="120.60" y2="511.90" stroke="#000" stroke-width="1.1"/>
<line x1="100.20" y1="505.00" x2="129.30" y2="505.00" stroke="#000" stroke-width="0.9"/>
<line x1="105.40" y1="511.50" x2="105.40" y2="631.50" stroke="#000" stroke-width="1.1"/>
<path d="M120.8,553.4 H117 Q115.4,553.4 115.4,555 V558.5 Q115.4,559.7 116.6,559.7 Q115.4,559.7 115.4,561 V564.6 Q115.4,566.2 117,566.2 H120.8" fill="none" stroke="#000" stroke-width="1.1"/>
<line x1="108.70" y1="559.70" x2="126.70" y2="559.70" stroke="#000" stroke-width="0.9"/>
<text x="113.90" y="375.20" font-size="10.1" text-anchor="start" textLength="55.2" lengthAdjust="spacing">ø7.1[180.0]</text>
<line x1="100.50" y1="377.80" x2="169.30" y2="377.80" stroke="#000" stroke-width="1.1"/>
<polygon points="100.50,377.80 105.80,375.90 105.80,379.70" fill="#000" stroke="#000" stroke-width="0.3"/>
<line x1="100.50" y1="377.80" x2="100.50" y2="414.00" stroke="#000" stroke-width="1.1"/>
<text x="242.50" y="375.20" font-size="10.1" text-anchor="start" textLength="57" lengthAdjust="spacing">ø8.0[202.4]</text>
<line x1="242.50" y1="377.80" x2="307.80" y2="377.80" stroke="#000" stroke-width="1.1"/>
<polygon points="307.80,377.80 302.50,379.70 302.50,375.90" fill="#000" stroke="#000" stroke-width="0.3"/>
<line x1="307.80" y1="377.80" x2="307.80" y2="413.00" stroke="#000" stroke-width="1.1"/>
<text x="130.00" y="394.80" font-size="10.1" text-anchor="start" textLength="38.6" lengthAdjust="spacing">ISO 160</text>
<line x1="129.30" y1="397.10" x2="170.40" y2="397.10" stroke="#000" stroke-width="1.1"/>
<line x1="149.90" y1="397.10" x2="149.90" y2="414.80" stroke="#000" stroke-width="1.1"/>
<text x="236.60" y="394.80" font-size="10.1" text-anchor="start" textLength="34" lengthAdjust="spacing">CFF 8"</text>
<line x1="236.10" y1="397.10" x2="271.30" y2="397.10" stroke="#000" stroke-width="1.1"/>
<line x1="253.30" y1="397.10" x2="253.30" y2="414.80" stroke="#000" stroke-width="1.1"/>
<line x1="92.80" y1="420.00" x2="92.80" y2="428.90" stroke="#000" stroke-width="1.1"/>
<polygon points="92.80,428.90 90.90,423.60 94.70,423.60" fill="#000" stroke="#000" stroke-width="0.3"/>
<line x1="323.50" y1="430.20" x2="323.50" y2="439.20" stroke="#000" stroke-width="1.1"/>
<polygon points="323.50,439.20 321.60,433.90 325.40,433.90" fill="#000" stroke="#000" stroke-width="0.3"/>
<rect x="197" y="449" width="4" height="11.5" fill="#fff"/>
<text x="173.80" y="459.20" font-size="10.1" text-anchor="start" textLength="50" lengthAdjust="spacing">4.7[120.0]</text>
<line x1="133.10" y1="462.60" x2="263.60" y2="462.60" stroke="#000" stroke-width="1.1"/>
<polygon points="133.10,462.60 138.40,460.70 138.40,464.50" fill="#000" stroke="#000" stroke-width="0.3"/>
<polygon points="263.60,462.60 258.30,464.50 258.30,460.70" fill="#000" stroke="#000" stroke-width="0.3"/>
<text x="88.90" y="532.60" font-size="9.7" text-anchor="start" textLength="45.5" lengthAdjust="spacing" transform="rotate(-90 88.90 532.60)">1.8[44.6]</text>
<line x1="92.80" y1="477.80" x2="92.80" y2="532.70" stroke="#000" stroke-width="1.1"/>
<polygon points="92.80,477.80 94.70,483.10 90.90,483.10" fill="#000" stroke="#000" stroke-width="0.3"/>
<text x="320.40" y="532.10" font-size="9.7" text-anchor="start" textLength="43.7" lengthAdjust="spacing" transform="rotate(-90 320.40 532.10)">1.4[35.2]</text>
<line x1="324.00" y1="477.80" x2="324.00" y2="532.70" stroke="#000" stroke-width="1.1"/>
<polygon points="324.00,477.80 325.90,483.10 322.10,483.10" fill="#000" stroke="#000" stroke-width="0.3"/>
<text x="342.30" y="533.40" font-size="9.7" text-anchor="start" textLength="51.4" lengthAdjust="spacing" transform="rotate(-90 342.30 533.40)">6.6[168.6]</text>
<line x1="345.70" y1="414.80" x2="345.70" y2="600.20" stroke="#000" stroke-width="1.1"/>
<text x="30.30" y="574.30" font-size="10.1" text-anchor="start" textLength="54" lengthAdjust="spacing">Purge Port</text>
<path d="M30.3,577.7 H87.4 L115.1,563.6" fill="none" stroke="#000" stroke-width="1.1"/>
<text x="130.00" y="625.80" font-size="10.1" text-anchor="start" textLength="45.4" lengthAdjust="spacing">3.4[86.0]</text>
<line x1="105.40" y1="629.00" x2="198.90" y2="629.00" stroke="#000" stroke-width="1.1"/>
<polygon points="105.40,629.00 110.70,627.10 110.70,630.90" fill="#000" stroke="#000" stroke-width="0.3"/>
<polygon points="198.90,629.00 193.60,630.90 193.60,627.10" fill="#000" stroke="#000" stroke-width="0.3"/>
<line x1="188.30" y1="639.70" x2="208.60" y2="639.70" stroke="#000" stroke-width="1.1"/>
<path d="M196.5,669.5 V649.7 H193.6 L198.9,640 L204.1,649.7 H201.2 V669.5 Z" fill="none" stroke="#000" stroke-width="0.9"/>
<text x="205.20" y="666.50" font-size="12.5" text-anchor="start">B</text>
<text x="456.40" y="649.00" font-size="13.2" text-anchor="start" textLength="87.3" lengthAdjust="spacing">VIEW FROM B</text>
<line x1="397.00" y1="498.60" x2="442.00" y2="498.60" stroke="#000" stroke-width="1.1"/>
<line x1="442.00" y1="498.60" x2="616.00" y2="498.60" stroke="#000" stroke-width="1.1" stroke-dasharray="9 2 2 2"/>
<line x1="500.10" y1="381.70" x2="500.10" y2="616.00" stroke="#000" stroke-width="1.1" stroke-dasharray="9 2 2 2"/>
<rect x="467.6" y="496.4" width="64" height="11" fill="#fff" transform="rotate(-21.6 469.1 506.2)"/>
<path d="M500.10,596.60 A98.00,98.00 0 0 1 500.10,400.60" fill="none" stroke="#000" stroke-width="1.1"/>
<path d="M500.1,387.70000000000005 A110.3,111.3 0 0 1 500.1,610.3000000000001" fill="none" stroke="#000" stroke-width="1.1"/>
<line x1="500.10" y1="387.50" x2="500.10" y2="401.00" stroke="#000" stroke-width="1.1"/>
<line x1="500.10" y1="596.00" x2="500.10" y2="616.00" stroke="#000" stroke-width="1.1"/>
<circle cx="500.10" cy="498.60" r="78.30" fill="none" stroke="#000" stroke-width="1.1"/>
<circle cx="500.10" cy="498.60" r="54.60" fill="none" stroke="#000" stroke-width="1.1" stroke-dasharray="9 2 2 2"/>
<circle cx="500.10" cy="498.60" r="40.70" fill="none" stroke="#000" stroke-width="1.1"/>
<circle cx="515.43" cy="401.81" r="4.70" fill="#fff" stroke="#000" stroke-width="1.1"/>
<circle cx="569.40" cy="429.30" r="4.70" fill="#fff" stroke="#000" stroke-width="1.1"/>
<circle cx="587.42" cy="454.11" r="4.70" fill="#fff" stroke="#000" stroke-width="1.1"/>
<circle cx="596.89" cy="513.93" r="4.70" fill="#fff" stroke="#000" stroke-width="1.1"/>
<circle cx="587.42" cy="543.09" r="4.70" fill="#fff" stroke="#000" stroke-width="1.1"/>
<circle cx="569.40" cy="567.90" r="4.70" fill="#fff" stroke="#000" stroke-width="1.1"/>
<circle cx="544.59" cy="585.92" r="4.70" fill="#fff" stroke="#000" stroke-width="1.1"/>
<circle cx="515.43" cy="595.39" r="4.70" fill="#fff" stroke="#000" stroke-width="1.1"/>
<g transform="rotate(0 500.10 424.40)">
<path d="M494.80,420.40 V424.40 A5.3,5.3 0 0 0 505.40,424.40 V420.40" fill="#fff" stroke="#000" stroke-width="1.1"/>
<circle cx="500.10" cy="423.20" r="1.70" fill="none" stroke="#000" stroke-width="1.1"/>
</g>
<g transform="rotate(60 564.36 461.50)">
<path d="M559.06,457.50 V461.50 A5.3,5.3 0 0 0 569.66,461.50 V457.50" fill="#fff" stroke="#000" stroke-width="1.1"/>
<circle cx="564.36" cy="460.30" r="1.70" fill="none" stroke="#000" stroke-width="1.1"/>
</g>
<g transform="rotate(120 564.36 535.70)">
<path d="M559.06,531.70 V535.70 A5.3,5.3 0 0 0 569.66,535.70 V531.70" fill="#fff" stroke="#000" stroke-width="1.1"/>
<circle cx="564.36" cy="534.50" r="1.70" fill="none" stroke="#000" stroke-width="1.1"/>
</g>
<g transform="rotate(180 500.10 572.80)">
<path d="M494.80,568.80 V572.80 A5.3,5.3 0 0 0 505.40,572.80 V568.80" fill="#fff" stroke="#000" stroke-width="1.1"/>
<circle cx="500.10" cy="571.60" r="1.70" fill="none" stroke="#000" stroke-width="1.1"/>
</g>
<g transform="rotate(240 435.84 535.70)">
<path d="M430.54,531.70 V535.70 A5.3,5.3 0 0 0 441.14,535.70 V531.70" fill="#fff" stroke="#000" stroke-width="1.1"/>
<circle cx="435.84" cy="534.50" r="1.70" fill="none" stroke="#000" stroke-width="1.1"/>
</g>
<g transform="rotate(300 435.84 461.50)">
<path d="M430.54,457.50 V461.50 A5.3,5.3 0 0 0 441.14,461.50 V457.50" fill="#fff" stroke="#000" stroke-width="1.1"/>
<circle cx="435.84" cy="460.30" r="1.70" fill="none" stroke="#000" stroke-width="1.1"/>
</g>
<circle cx="547.38" cy="471.30" r="2.10" fill="#fff" stroke="#1a1a1a" stroke-width="2.1"/>
<circle cx="500.10" cy="553.20" r="2.10" fill="#fff" stroke="#1a1a1a" stroke-width="2.1"/>
<circle cx="452.82" cy="471.30" r="2.10" fill="#fff" stroke="#1a1a1a" stroke-width="2.1"/>
<circle cx="500.10" cy="534.80" r="1.20" fill="#333" stroke="#000" stroke-width="0.9"/>
<circle cx="463.80" cy="499.90" r="1.20" fill="#333" stroke="#000" stroke-width="0.9"/>
<circle cx="524.30" cy="472.20" r="1.20" fill="#333" stroke="#000" stroke-width="0.9"/>
<line x1="446.10" y1="520.40" x2="550.70" y2="479.30" stroke="#000" stroke-width="1.1"/>
<polygon points="446.10,520.40 450.33,516.69 451.73,520.23" fill="#000" stroke="#000" stroke-width="0.3"/>
<polygon points="550.70,479.30 546.47,483.01 545.07,479.47" fill="#000" stroke="#000" stroke-width="0.3"/>
<text x="469.10" y="506.20" font-size="9.7" text-anchor="start" textLength="61.5" lengthAdjust="spacing" transform="rotate(-21.6 469.10 506.20)">ø4.0[ø100.5]</text>
<line x1="500.10" y1="498.60" x2="610.09" y2="562.10" stroke="#000" stroke-width="1.1"/>
<line x1="610.30" y1="560.80" x2="679.20" y2="441.50" stroke="#000" stroke-width="1.1"/>
<polygon points="610.30,560.80 611.30,555.26 614.60,557.16" fill="#000" stroke="#000" stroke-width="0.3"/>
<polygon points="679.20,441.50 678.20,447.04 674.90,445.14" fill="#000" stroke="#000" stroke-width="0.3"/>
<line x1="580.00" y1="382.90" x2="679.60" y2="441.20" stroke="#000" stroke-width="1.1"/>
<text x="628.30" y="521.30" font-size="9.7" text-anchor="start" textLength="49" lengthAdjust="spacing" transform="rotate(-60 628.30 521.30)">5.1[128.3]</text>
<text x="598.00" y="354.90" font-size="10.1" text-anchor="start" textLength="37.7" lengthAdjust="spacing">Straight</text>
<text x="598.00" y="368.20" font-size="10.1" text-anchor="start" textLength="81.4" lengthAdjust="spacing">Elect. Connector</text>
<path d="M680.8,370.9 H598 L574,379.3" fill="none" stroke="#000" stroke-width="1.1"/>
<g transform="rotate(30 500.1 498.6)">
<rect x="487.35" y="416.10" width="25.50" height="4.00" rx="0" fill="#fff" stroke="#000" stroke-width="1.1"/>
<rect x="491.60" y="406.60" width="17.00" height="9.50" rx="0" fill="#fff" stroke="#000" stroke-width="1.1"/>
<circle cx="495.60" cy="412.10" r="1.00" fill="#222" stroke="#000" stroke-width="0.6"/>
<rect x="488.60" y="394.60" width="23.00" height="12.00" rx="0" fill="#8c8c8c" stroke="#000" stroke-width="1.1"/>
<line x1="489.30" y1="394.90" x2="489.30" y2="406.30" stroke="#2a2a2a" stroke-width="0.55"/>
<line x1="491.25" y1="394.90" x2="491.25" y2="406.30" stroke="#2a2a2a" stroke-width="0.55"/>
<line x1="493.20" y1="394.90" x2="493.20" y2="406.30" stroke="#2a2a2a" stroke-width="0.55"/>
<line x1="495.15" y1="394.90" x2="495.15" y2="406.30" stroke="#2a2a2a" stroke-width="0.55"/>
<line x1="497.10" y1="394.90" x2="497.10" y2="406.30" stroke="#2a2a2a" stroke-width="0.55"/>
<line x1="499.05" y1="394.90" x2="499.05" y2="406.30" stroke="#2a2a2a" stroke-width="0.55"/>
<line x1="501.00" y1="394.90" x2="501.00" y2="406.30" stroke="#2a2a2a" stroke-width="0.55"/>
<line x1="502.95" y1="394.90" x2="502.95" y2="406.30" stroke="#2a2a2a" stroke-width="0.55"/>
<line x1="504.90" y1="394.90" x2="504.90" y2="406.30" stroke="#2a2a2a" stroke-width="0.55"/>
<line x1="506.85" y1="394.90" x2="506.85" y2="406.30" stroke="#2a2a2a" stroke-width="0.55"/>
<line x1="508.80" y1="394.90" x2="508.80" y2="406.30" stroke="#2a2a2a" stroke-width="0.55"/>
<line x1="510.75" y1="394.90" x2="510.75" y2="406.30" stroke="#2a2a2a" stroke-width="0.55"/>
<rect x="496.35" y="398.60" width="7.50" height="5.00" rx="0" fill="#fff" stroke="#000" stroke-width="1.1"/>
<rect x="489.60" y="378.10" width="21.00" height="16.50" rx="0" fill="#fff" stroke="#000" stroke-width="1.1"/>
<line x1="489.60" y1="385.60" x2="510.60" y2="385.60" stroke="#000" stroke-width="0.9"/>
<rect x="487.85" y="365.10" width="24.50" height="13.00" rx="0" fill="#9a9a9a" stroke="#000" stroke-width="1.1"/>
<line x1="488.50" y1="365.40" x2="488.50" y2="377.80" stroke="#2a2a2a" stroke-width="0.55"/>
<line x1="490.45" y1="365.40" x2="490.45" y2="377.80" stroke="#2a2a2a" stroke-width="0.55"/>
<line x1="492.40" y1="365.40" x2="492.40" y2="377.80" stroke="#2a2a2a" stroke-width="0.55"/>
<line x1="494.35" y1="365.40" x2="494.35" y2="377.80" stroke="#2a2a2a" stroke-width="0.55"/>
<line x1="496.30" y1="365.40" x2="496.30" y2="377.80" stroke="#2a2a2a" stroke-width="0.55"/>
<line x1="498.25" y1="365.40" x2="498.25" y2="377.80" stroke="#2a2a2a" stroke-width="0.55"/>
<line x1="500.20" y1="365.40" x2="500.20" y2="377.80" stroke="#2a2a2a" stroke-width="0.55"/>
<line x1="502.15" y1="365.40" x2="502.15" y2="377.80" stroke="#2a2a2a" stroke-width="0.55"/>
<line x1="504.10" y1="365.40" x2="504.10" y2="377.80" stroke="#2a2a2a" stroke-width="0.55"/>
<line x1="506.05" y1="365.40" x2="506.05" y2="377.80" stroke="#2a2a2a" stroke-width="0.55"/>
<line x1="508.00" y1="365.40" x2="508.00" y2="377.80" stroke="#2a2a2a" stroke-width="0.55"/>
<line x1="509.95" y1="365.40" x2="509.95" y2="377.80" stroke="#2a2a2a" stroke-width="0.55"/>
<line x1="511.90" y1="365.40" x2="511.90" y2="377.80" stroke="#2a2a2a" stroke-width="0.55"/>
<rect x="489.10" y="357.60" width="22.00" height="7.50" rx="0" fill="#fff" stroke="#000" stroke-width="1.1"/>
</g>
<line x1="510.60" y1="480.41" x2="571.10" y2="375.62" stroke="#000" stroke-width="0.7" stroke-dasharray="9 2 2 2"/>
<line x1="578.40" y1="487.30" x2="589.50" y2="487.30" stroke="#000" stroke-width="1.1"/>
<line x1="578.40" y1="509.60" x2="589.50" y2="509.60" stroke="#000" stroke-width="1.1"/>
<circle cx="597.20" cy="483.30" r="4.60" fill="#fff" stroke="#000" stroke-width="1.1"/>
<circle cx="597.20" cy="513.90" r="4.60" fill="#fff" stroke="#000" stroke-width="1.1"/>
<path d="M592.1,476.8 H595.7 V520.6 H592.1 Z" fill="#fff" stroke="#000" stroke-width="1.0"/>
<path d="M592.1,477.2 Q586.4,498.6 592.1,520.2" fill="#fff" stroke="#000" stroke-width="1.0"/>
<rect x="407.70" y="492.60" width="13.70" height="12.60" rx="1.2" fill="#333" stroke="#000" stroke-width="0.9"/>
<line x1="408.30" y1="494.80" x2="420.80" y2="494.80" stroke="#ccc" stroke-width="0.6"/>
<line x1="408.30" y1="497.50" x2="420.80" y2="497.50" stroke="#ccc" stroke-width="0.6"/>
<line x1="408.30" y1="500.20" x2="420.80" y2="500.20" stroke="#ccc" stroke-width="0.6"/>
<line x1="408.30" y1="502.90" x2="420.80" y2="502.90" stroke="#ccc" stroke-width="0.6"/>
<line x1="418.30" y1="492.80" x2="418.30" y2="505.00" stroke="#ccc" stroke-width="0.6"/>
<path d="M421.4,496 H427.5 V501.4 H421.4" fill="none" stroke="#000" stroke-width="0.9"/>
<line x1="427.50" y1="497.00" x2="438.00" y2="497.00" stroke="#000" stroke-width="0.7" stroke-dasharray="2 1.4"/>
<line x1="427.50" y1="500.40" x2="438.00" y2="500.40" stroke="#000" stroke-width="0.7" stroke-dasharray="2 1.4"/>
<path d="M435.5,494.5 L441,498.6 L436.5,502.5" fill="none" stroke="#000" stroke-width="0.7" stroke-dasharray="2.5 1.2"/>
<line x1="453.80" y1="447.00" x2="453.80" y2="548.00" stroke="#000" stroke-width="1.25" stroke-dasharray="2.6 1.3"/>
<line x1="458.40" y1="447.00" x2="458.40" y2="551.00" stroke="#000" stroke-width="0.9" stroke-dasharray="9 2 2.5 2"/>
<line x1="463.40" y1="447.00" x2="463.40" y2="548.00" stroke="#000" stroke-width="1.25" stroke-dasharray="2.6 1.3"/>
<line x1="451.60" y1="546.60" x2="500.00" y2="551.20" stroke="#000" stroke-width="1.1" stroke-dasharray="2.8 1.4"/>
<line x1="453.50" y1="550.80" x2="533.00" y2="557.50" stroke="#000" stroke-width="0.9" stroke-dasharray="9 2 2.5 2"/>
<line x1="453.50" y1="555.40" x2="500.00" y2="559.20" stroke="#000" stroke-width="1.1" stroke-dasharray="2.8 1.4"/>
<line x1="500.00" y1="551.20" x2="533.00" y2="553.80" stroke="#000" stroke-width="1.1" stroke-dasharray="2.8 1.4"/>
<line x1="500.00" y1="559.20" x2="533.00" y2="562.00" stroke="#000" stroke-width="1.1" stroke-dasharray="2.8 1.4"/>
<path d="M453,544.8 L451.3,548 V555" fill="none" stroke="#000" stroke-width="0.9"/>
<line x1="458.60" y1="406.60" x2="458.60" y2="447.00" stroke="#000" stroke-width="0.7" stroke-dasharray="7 2 2 2"/>
<rect x="450.30" y="411.50" width="17.30" height="8.80" rx="1" fill="none" stroke="#000" stroke-width="1.1"/>
<rect x="450.30" y="420.30" width="17.30" height="17.10" rx="0" fill="none" stroke="#000" stroke-width="1.1"/>
<line x1="458.90" y1="411.50" x2="458.90" y2="420.30" stroke="#000" stroke-width="0.7"/>
<path d="M450.3,424.2 H436 Q433.4,424.2 433.4,426.3 V430.2 Q433.4,432.3 436,432.3 H450.3" fill="#fff" stroke="#000" stroke-width="1.1"/>
<line x1="437.50" y1="424.20" x2="437.50" y2="432.30" stroke="#000" stroke-width="0.7"/>
<line x1="441.50" y1="424.20" x2="441.50" y2="432.30" stroke="#000" stroke-width="0.7"/>
<line x1="445.50" y1="424.20" x2="445.50" y2="432.30" stroke="#000" stroke-width="0.7"/>
<rect x="453.50" y="437.40" width="10.80" height="9.50" rx="0" fill="none" stroke="#000" stroke-width="1.1"/>
<line x1="453.50" y1="440.60" x2="464.30" y2="440.60" stroke="#000" stroke-width="0.7"/>
<path d="M467.6,426.3 H472.9 V437.4 H467.6" fill="none" stroke="#000" stroke-width="0.9" stroke-dasharray="2.2 1.4"/>
<g transform="rotate(5 560 560)">
<rect x="557.50" y="552.00" width="8.60" height="17.00" rx="0" fill="#fff" stroke="#000" stroke-width="1.1"/>
<line x1="557.50" y1="560.50" x2="566.10" y2="560.50" stroke="#000" stroke-width="0.9"/>
<line x1="543.50" y1="566.30" x2="557.50" y2="566.30" stroke="#000" stroke-width="1.1"/>
<line x1="541.50" y1="555.00" x2="557.50" y2="555.00" stroke="#000" stroke-width="1.1" stroke-dasharray="2.6 1.3"/>
<path d="M545.8,568 H553.8 V585 Q553.8,588 549.8,588 Q545.8,588 545.8,585 Z" fill="#fff" stroke="#000" stroke-width="1.1"/>
<line x1="545.80" y1="572.50" x2="553.80" y2="572.50" stroke="#000" stroke-width="0.7"/>
<line x1="545.80" y1="576.50" x2="553.80" y2="576.50" stroke="#000" stroke-width="0.7"/>
<line x1="545.80" y1="580.50" x2="553.80" y2="580.50" stroke="#000" stroke-width="0.7"/>
<path d="M541.5,547.5 H560 V555 H541.5 Z" fill="none" stroke="#000" stroke-width="0.9" stroke-dasharray="2.4 1.4"/>
<path d="M531.2,555 H540 V565.8 H531.2 Z" fill="none" stroke="#000" stroke-width="1.1" stroke-dasharray="2.6 1.3"/>
<line x1="535.60" y1="555.00" x2="535.60" y2="565.80" stroke="#000" stroke-width="0.8" stroke-dasharray="2.6 1.3"/>
</g>
<text x="353.00" y="590.30" font-size="10.1" text-anchor="start" textLength="60" lengthAdjust="spacing">M6 N° Holes</text>
<text x="353.00" y="604.30" font-size="10.1" text-anchor="start" textLength="86" lengthAdjust="spacing">at 120° to Mount</text>
<text x="353.00" y="618.30" font-size="10.1" text-anchor="start" textLength="72.6" lengthAdjust="spacing">Air Cooling Kit</text>
<path d="M441.6,601.6 H454.3 L498.6,555.3" fill="none" stroke="#000" stroke-width="1.1"/>
</svg>
</body></html>
